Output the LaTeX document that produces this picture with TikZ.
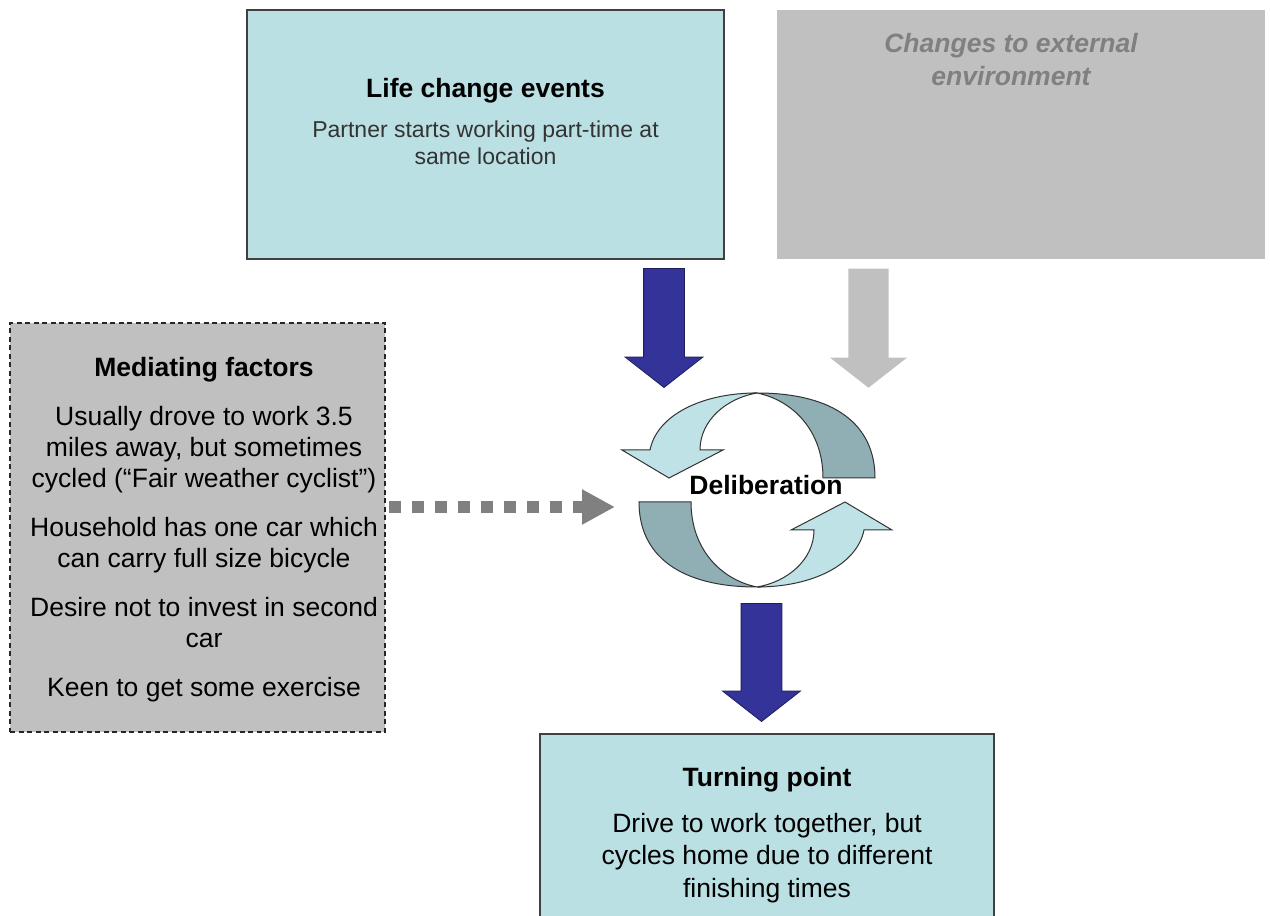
\documentclass[tikz,border=0pt]{standalone}
\usepackage{fontspec}
\setmainfont{Liberation Sans}
\usetikzlibrary
  {
    positioning,
    arrows.meta,
    shapes.arrows,
  }
\definecolor{event fill}{RGB}{187,224,228}
\definecolor{face light}{RGB}{191,226,230}
\definecolor{face dark}{RGB}{143,175,180}
\definecolor{navy}{RGB}{51,51,153}
\definecolor{silver}{RGB}{192,192,192}
\definecolor{dim}{RGB}{128,128,128}
\tikzset
  {
    box/.style=
      {
        rectangle,
        inner sep=0pt,
      },
    event box/.style={box, fill=event fill, draw=black!75, line width=1.2pt},
    outside box/.style={box, fill=silver},
    factor box/.style=
      {
        box,
        fill=silver,
        draw=black!85,
        line width=1.2pt,
        dash pattern=on 5pt off 3.5pt,
      },
    heading/.style=
      {
        inner sep=0pt,
        font=\bfseries\fontsize{26.5}{31}\selectfont,
      },
    body/.style=
      {
        inner sep=0pt,
        align=center,
        font=\fontsize{26.5}{31}\selectfont,
      },
    fat arrow/.style=
      {
        single arrow,
        rotate=-90,
        anchor=tip,
        minimum height=119pt,
        minimum width=77pt,
        inner xsep=0pt,
        inner ysep=20pt,
        single arrow head extend=18.5pt,
        single arrow tip angle=104,
      },
    blue arrow/.style={fat arrow, fill=navy, draw=navy!60!black, line width=.8pt},
    grey arrow/.style={fat arrow, fill=silver},
    dotted arrow/.style=
      {
        draw=dim,
        line width=12pt,
        dash pattern=on 12pt off 11pt,
        -{Triangle[length=33pt, width=33pt]},
      },
    cycle half/.pic=
      {
        \filldraw[fill=face dark, draw=black!80, line width=1pt]
          (0,97) .. controls (78,97) and (118,65) .. (118,12)
          -- (66,12) .. controls (66,60) and (35,90) .. (0,97) -- cycle;
        \filldraw[fill=face light, draw=black!80, line width=1pt]
          (0,97) .. controls (-55,97) and (-100,75) .. (-107,40)
          -- (-135,40) -- (-88,12) -- (-34,40) -- (-57,40)
          .. controls (-57,70) and (-30,92) .. (0,97) -- cycle;
      },
  }
\begin{document}
\begin{tikzpicture}[x=1pt, y=1pt]
  \path[use as bounding box, clip] (0,0) rectangle (1270,916);

  \node[event box, minimum width=477pt, minimum height=249pt]
    (life) at (485.5,781.5) {};
  \node[heading, below=88pt of life.north, anchor=base] (life title)
    {Life change events};
  \node[body, below=155pt of life.north, anchor=base, text=black!80,
    font=\fontsize{23}{27}\selectfont] (life text)
    {Partner starts working part-time at\\same location};

  \node[outside box, minimum width=488pt, minimum height=249pt]
    (outside) at (1021,781.5) {};
  \node[body, below=76pt of outside.north, anchor=base, xshift=-10pt,
    text=dim, font=\bfseries\itshape\fontsize{26.5}{33}\selectfont]
    (outside text) {Changes to external\\environment};

  \node[factor box, minimum width=375pt, minimum height=409pt]
    (factors) at (197.5,388.5) {};
  \node[heading, below=54pt of factors.north, anchor=base, xshift=6.5pt]
    (factors title) {Mediating factors};
  \node[body, below=374pt of factors.north, anchor=base, xshift=6.5pt]
    (factors text)
    {Usually drove to work 3.5\\miles away, but sometimes\\
     cycled (“Fair weather cyclist”)\\[18pt]
     Household has one car which\\can carry full size bicycle\\[18pt]
     Desire not to invest in second\\car\\[18pt]
     Keen to get some exercise};

  \node[event box, minimum width=454pt, minimum height=202pt]
    (turning) at (767,81) {};
  \node[heading, below=53pt of turning.north, anchor=base] (turning title)
    {Turning point};
  \node[body, below=164pt of turning.north, anchor=base,
    font=\fontsize{26.5}{32.5}\selectfont] (turning text)
    {Drive to work together, but\\cycles home due to different\\finishing times};

  \coordinate (cycle) at (757,426);
  \pic at (cycle) {cycle half};
  \pic[rotate=180] at (cycle) {cycle half};
  \node[heading, anchor=base] (delib) at (766,421) {Deliberation};

  \node[blue arrow] (push) at (664,528) {};
  \node[grey arrow] (nudge) at (868.5,528) {};
  \node[blue arrow, minimum height=118pt] (result) at (761.5,194) {};

  \coordinate (dots end) at (615,409);
  \draw[dotted arrow, shorten <=3pt] (factors.east|-dots end) -- (dots end);
\end{tikzpicture}
\end{document}
